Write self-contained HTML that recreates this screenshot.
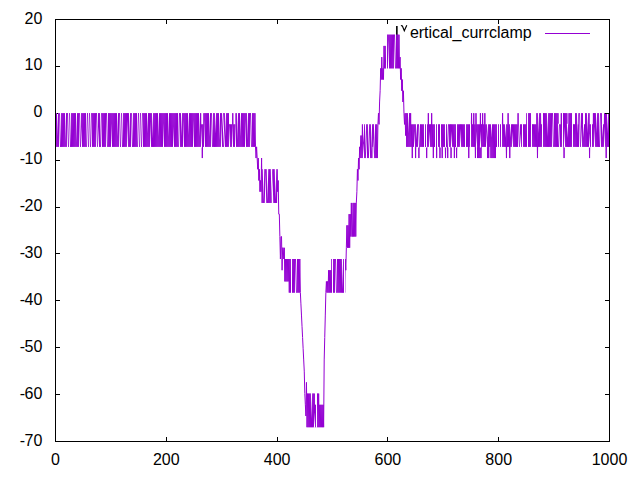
<!DOCTYPE html>
<html><head><meta charset="utf-8"><style>
html,body{margin:0;padding:0;background:#fff;}
svg{display:block;}
text{font-family:"Liberation Sans",sans-serif;font-size:16px;fill:#000;}
</style></head><body>
<svg width="640" height="480" viewBox="0 0 640 480">
<rect width="640" height="480" fill="#fff"/>
<path d="M55.5 66.5H60M609.5 66.5H605M55.5 160.5H60M609.5 160.5H605M55.5 207.5H60M609.5 207.5H605M55.5 253.5H60M609.5 253.5H605M55.5 300.5H60M609.5 300.5H605M55.5 347.5H60M609.5 347.5H605M55.5 394.5H60M609.5 394.5H605M166.5 441.5V437M166.5 19.5V24M277.5 441.5V437M277.5 19.5V24M387.5 441.5V437M387.5 19.5V24M498.5 441.5V437M498.5 19.5V24" stroke="#000" stroke-width="1" fill="none"/>
<g><text x="42.3" y="24.0" text-anchor="end">20</text><text x="42.3" y="70.0" text-anchor="end">10</text><text x="42.3" y="117.0" text-anchor="end">0</text><text x="42.3" y="164.0" text-anchor="end">-<tspan dx="-0.6">10</tspan></text><text x="42.3" y="211.0" text-anchor="end">-<tspan dx="-0.6">20</tspan></text><text x="42.3" y="258.0" text-anchor="end">-<tspan dx="-0.6">30</tspan></text><text x="42.3" y="305.0" text-anchor="end">-<tspan dx="-0.6">40</tspan></text><text x="42.3" y="352.0" text-anchor="end">-<tspan dx="-0.6">50</tspan></text><text x="42.3" y="399.0" text-anchor="end">-<tspan dx="-0.6">60</tspan></text><text x="42.3" y="446.0" text-anchor="end">-<tspan dx="-0.6">70</tspan></text><text x="55.5" y="464.5" text-anchor="middle">0</text><text x="166.3" y="464.5" text-anchor="middle">200</text><text x="277.1" y="464.5" text-anchor="middle">400</text><text x="387.9" y="464.5" text-anchor="middle">600</text><text x="498.7" y="464.5" text-anchor="middle">800</text><text x="609.5" y="464.5" text-anchor="middle">1000</text></g>
<path d="M396.85 26V40" stroke="#000" stroke-width="1.6" fill="none"/>
<path d="M401.1 26.1Q401.8 25.1 402.5 26.3L404.3 30.8L406.8 25.3" stroke="#000" stroke-width="1.15" fill="none"/>
<text x="409.9" y="37.9">ertical_currclamp</text>
<path d="M545 33.5H590" stroke="#9400d3" stroke-width="1" fill="none"/>
<path d="M55.50 113.20L56.05 146.84L56.61 113.20L57.16 146.84L57.72 113.20L58.27 146.84L58.82 113.20L59.38 146.84L59.93 113.20L60.49 146.84L61.04 113.20L61.59 146.84L62.15 113.20L62.70 146.84L63.26 113.20L63.81 146.84L64.36 113.20L64.92 146.84L65.47 113.20L66.03 146.84L66.58 113.20L67.13 146.84L67.69 113.20L68.24 146.84L68.80 113.20L69.35 146.84L69.90 113.20L70.46 146.84L71.01 113.20L71.57 146.84L72.12 113.20L72.67 146.84L73.23 113.20L73.78 146.84L74.34 113.20L74.89 146.84L75.44 113.20L76.00 146.84L76.55 113.20L77.11 146.84L77.66 113.20L78.21 146.84L78.77 113.20L79.32 146.84L79.88 113.20L80.43 146.84L80.98 113.20L81.54 146.84L82.09 113.20L82.65 146.84L83.20 113.20L83.75 146.84L84.31 113.20L84.86 146.84L85.42 113.20L85.97 146.84L86.52 113.20L87.08 146.84L87.63 113.20L88.19 146.84L88.74 113.20L89.29 146.84L89.85 113.20L90.40 146.84L90.96 113.20L91.51 146.84L92.06 113.20L92.62 146.84L93.17 113.20L93.73 146.84L94.28 113.20L94.83 146.84L95.39 113.20L95.94 146.84L96.50 113.20L97.05 146.84L97.60 113.20L98.16 146.84L98.71 113.20L99.27 146.84L99.82 113.20L100.37 146.84L100.93 113.20L101.48 146.84L102.04 113.20L102.59 146.84L103.14 113.20L103.70 146.84L104.25 113.20L104.81 146.84L105.36 113.20L105.91 146.84L106.47 113.20L107.02 146.84L107.58 113.20L108.13 146.84L108.68 113.20L109.24 146.84L109.79 113.20L110.35 146.84L110.90 113.20L111.45 146.84L112.01 113.20L112.56 146.84L113.12 113.20L113.67 146.84L114.22 113.20L114.78 146.84L115.33 113.20L115.89 146.84L116.44 113.20L116.99 146.84L117.55 113.20L118.10 146.84L118.66 113.20L119.21 146.84L119.76 113.20L120.32 146.84L120.87 113.20L121.43 146.84L121.98 113.20L122.53 146.84L123.09 113.20L123.64 146.84L124.20 113.20L124.75 146.84L125.30 113.20L125.86 146.84L126.41 113.20L126.97 146.84L127.52 113.20L128.07 146.84L128.63 113.20L129.18 146.84L129.74 113.20L130.29 146.84L130.84 113.20L131.40 146.84L131.95 113.20L132.51 146.84L133.06 113.20L133.61 146.84L134.17 113.20L134.72 146.84L135.28 113.20L135.83 146.84L136.38 113.20L136.94 146.84L137.49 113.20L138.05 146.84L138.60 113.20L139.15 146.84L139.71 113.20L140.26 146.84L140.82 113.20L141.37 146.84L141.92 113.20L142.48 146.84L143.03 113.20L143.59 146.84L144.14 113.20L144.69 146.84L145.25 113.20L145.80 146.84L146.36 113.20L146.91 146.84L147.46 113.20L148.02 146.84L148.57 113.20L149.13 146.84L149.68 113.20L150.23 146.84L150.79 113.20L151.34 146.84L151.90 113.20L152.45 146.84L153.00 113.20L153.56 146.84L154.11 113.20L154.67 146.84L155.22 113.20L155.77 146.84L156.33 113.20L156.88 146.84L157.44 113.20L157.99 146.84L158.54 113.20L159.10 146.84L159.65 113.20L160.21 146.84L160.76 113.20L161.31 146.84L161.87 113.20L162.42 146.84L162.98 113.20L163.53 146.84L164.08 113.20L164.64 146.84L165.19 113.20L165.75 146.84L166.30 113.20L166.85 146.84L167.41 113.20L167.96 146.84L168.52 113.20L169.07 146.84L169.62 113.20L170.18 146.84L170.73 113.20L171.29 146.84L171.84 113.20L172.39 146.84L172.95 113.20L173.50 146.84L174.06 113.20L174.61 146.84L175.16 113.20L175.72 146.84L176.27 113.20L176.83 146.84L177.38 113.20L177.93 146.84L178.49 113.20L179.04 146.84L179.60 113.20L180.15 146.84L180.70 113.20L181.26 146.84L181.81 113.20L182.37 146.84L182.92 113.20L183.47 146.84L184.03 113.20L184.58 146.84L185.14 113.20L185.69 146.84L186.24 113.20L186.80 146.84L187.35 113.20L187.91 146.84L188.46 113.20L189.01 146.84L189.57 113.20L190.12 146.84L190.68 113.20L191.23 146.84L191.78 113.20L192.34 146.84L192.89 113.20L193.45 146.84L194.00 113.20L194.55 146.84L195.11 113.20L195.66 146.84L196.22 113.20L196.77 146.84L197.32 113.20L197.88 146.84L198.43 113.20L198.99 146.84L199.54 113.20L200.09 146.84L200.65 113.20L201.20 146.84L201.76 124.42L202.31 158.06L202.86 124.42L203.42 146.84L203.97 113.20L204.53 146.84L205.08 113.20L205.63 146.84L206.19 113.20L206.74 146.84L207.30 113.20L207.85 146.84L208.40 113.20L208.96 146.84L209.51 113.20L210.07 146.84L210.62 113.20L211.17 146.84L211.73 113.20L212.28 146.84L212.84 113.20L213.39 146.84L213.94 113.20L214.50 146.84L215.05 113.20L215.61 146.84L216.16 113.20L216.71 146.84L217.27 113.20L217.82 146.84L218.38 113.20L218.93 146.84L219.48 113.20L220.04 146.84L220.59 113.20L221.15 146.84L221.70 113.20L222.25 146.84L222.81 113.20L223.36 146.84L223.92 113.20L224.47 146.84L225.02 113.20L225.58 146.84L226.13 113.20L226.69 146.84L227.24 113.20L227.79 146.84L228.35 113.20L228.90 146.84L229.46 124.42L230.01 146.84L230.56 124.42L231.12 146.84L231.67 124.42L232.23 146.84L232.78 113.20L233.33 146.84L233.89 124.42L234.44 146.84L235.00 124.42L235.55 146.84L236.10 113.20L236.66 146.84L237.21 113.20L237.77 146.84L238.32 113.20L238.87 146.84L239.43 113.20L239.98 146.84L240.54 113.20L241.09 146.84L241.64 113.20L242.20 146.84L242.75 113.20L243.31 146.84L243.86 113.20L244.41 146.84L244.97 113.20L245.52 146.84L246.08 113.20L246.63 146.84L247.18 113.20L247.74 146.84L248.29 113.20L248.85 146.84L249.40 113.20L249.95 146.84L250.51 113.20L251.06 146.84L251.62 113.20L252.17 146.84L252.72 113.20L253.28 146.84L253.83 113.20L254.39 146.84L254.94 113.20L255.49 146.84L256.05 158.06L256.60 146.84L257.16 158.06L257.71 169.28L258.26 158.06L258.82 180.49L259.37 169.28L259.93 191.70L260.48 180.49L261.03 191.70L261.59 158.06L262.14 202.92L262.70 169.28L263.25 202.92L263.80 169.28L264.36 202.92L264.91 169.28L265.47 202.92L266.02 169.28L266.57 202.92L267.13 169.28L267.68 202.92L268.24 169.28L268.79 202.92L269.34 169.28L269.90 202.92L270.45 169.28L271.01 202.92L271.56 169.28L272.11 202.92L272.67 169.28L273.22 202.92L273.78 169.28L274.33 202.92L274.88 169.28L275.44 202.92L275.99 169.28L276.55 202.92L277.10 169.28L277.65 191.70L278.21 180.49L278.76 214.13L279.32 214.13L279.87 236.56L280.42 259.00L280.98 236.56L281.53 236.56L282.09 270.21L282.64 247.78L283.19 247.78L283.75 259.00L284.30 247.78L284.86 281.43L285.41 259.00L285.96 281.43L286.52 259.00L287.07 281.43L287.63 259.00L288.18 281.43L288.73 259.00L289.29 292.64L289.84 259.00L290.40 292.64L290.95 259.00L291.50 292.64L292.06 259.00L292.61 292.64L293.17 259.00L293.72 292.64L294.27 259.00L294.83 292.64L295.38 259.00L295.94 292.64L296.49 259.00L297.04 292.64L297.60 259.00L298.15 292.64L298.71 259.00L299.26 292.64L299.81 259.00L300.37 292.64L300.92 303.86L301.48 315.07L302.03 326.29L302.58 337.50L303.14 348.71L303.69 359.93L304.25 371.14L304.80 393.57L305.35 404.79L305.91 416.00L306.46 382.36L307.02 427.22L307.57 393.57L308.12 427.22L308.68 393.57L309.23 427.22L309.79 393.57L310.34 427.22L310.89 393.57L311.45 427.22L312.00 393.57L312.56 427.22L313.11 393.57L313.66 427.22L314.22 393.57L314.77 427.22L315.33 404.79L315.88 427.22L316.43 404.79L316.99 427.22L317.54 393.57L318.10 427.22L318.65 393.57L319.20 427.22L319.76 404.79L320.31 427.22L320.87 404.79L321.42 427.22L321.97 404.79L322.53 427.22L323.08 404.79L323.64 427.22L324.19 359.93L324.74 337.50L325.30 315.07L325.85 292.64L326.41 281.43L326.96 292.64L327.51 281.43L328.07 292.64L328.62 270.21L329.18 292.64L329.73 270.21L330.28 292.64L330.84 270.21L331.39 292.64L331.95 259.00L332.50 292.64L333.05 259.00L333.61 292.64L334.16 259.00L334.72 292.64L335.27 259.00L335.82 292.64L336.38 259.00L336.93 292.64L337.49 259.00L338.04 292.64L338.59 259.00L339.15 292.64L339.70 259.00L340.26 292.64L340.81 259.00L341.36 292.64L341.92 259.00L342.47 292.64L343.03 259.00L343.58 292.64L344.13 259.00L344.69 292.64L345.24 259.00L345.80 270.21L346.35 247.78L346.90 225.35L347.46 247.78L348.01 225.35L348.57 247.78L349.12 214.13L349.67 247.78L350.23 214.13L350.78 236.56L351.34 202.92L351.89 236.56L352.44 236.56L353.00 202.92L353.55 236.56L354.11 202.92L354.66 236.56L355.21 202.92L355.77 236.56L356.32 202.92L356.88 191.70L357.43 169.28L357.98 180.49L358.54 158.06L359.09 169.28L359.65 146.84L360.20 158.06L360.75 135.63L361.31 135.63L361.86 158.06L362.42 124.42L362.97 158.06L363.52 124.42L364.08 158.06L364.63 124.42L365.19 158.06L365.74 124.42L366.29 158.06L366.85 124.42L367.40 158.06L367.96 124.42L368.51 158.06L369.06 124.42L369.62 158.06L370.17 124.42L370.73 158.06L371.28 124.42L371.83 158.06L372.39 124.42L372.94 146.84L373.50 124.42L374.05 158.06L374.60 124.42L375.16 158.06L375.71 124.42L376.27 158.06L376.82 124.42L377.37 158.06L377.93 124.42L378.48 113.20L379.04 124.42L379.59 101.98L380.14 90.77L380.70 68.34L381.25 79.56L381.81 57.12L382.36 79.56L382.91 68.34L383.47 79.56L384.02 45.91L384.58 68.34L385.13 45.91L385.68 68.34L386.24 68.34L386.79 34.70L387.35 68.34L387.90 34.70L388.45 68.34L389.01 34.70L389.56 68.34L390.12 34.70L390.67 68.34L391.22 34.70L391.78 68.34L392.33 34.70L392.89 68.34L393.44 34.70L393.99 68.34L394.55 34.70L395.10 68.34L395.66 34.70L396.21 68.34L396.76 34.70L397.32 68.34L397.87 34.70L398.43 68.34L398.98 34.70L399.53 68.34L400.09 57.12L400.64 79.56L401.20 68.34L401.75 90.77L402.30 79.56L402.86 101.98L403.41 90.77L403.97 113.20L404.52 124.42L405.07 113.20L405.63 135.63L406.18 113.20L406.74 146.84L407.29 113.20L407.84 146.84L408.40 113.20L408.95 146.84L409.51 113.20L410.06 146.84L410.61 113.20L411.17 146.84L411.72 124.42L412.28 158.06L412.83 124.42L413.38 146.84L413.94 124.42L414.49 146.84L415.05 124.42L415.60 158.06L416.15 124.42L416.71 146.84L417.26 124.42L417.82 146.84L418.37 124.42L418.92 158.06L419.48 124.42L420.03 146.84L420.59 124.42L421.14 146.84L421.69 124.42L422.25 146.84L422.80 124.42L423.36 146.84L423.91 124.42L424.46 146.84L425.02 124.42L425.57 146.84L426.13 124.42L426.68 158.06L427.23 124.42L427.79 146.84L428.34 113.20L428.90 146.84L429.45 124.42L430.00 146.84L430.56 124.42L431.11 146.84L431.67 113.20L432.22 146.84L432.77 124.42L433.33 158.06L433.88 124.42L434.44 146.84L434.99 124.42L435.54 146.84L436.10 124.42L436.65 158.06L437.21 124.42L437.76 146.84L438.31 124.42L438.87 146.84L439.42 124.42L439.98 158.06L440.53 124.42L441.08 146.84L441.64 124.42L442.19 158.06L442.75 124.42L443.30 146.84L443.85 124.42L444.41 146.84L444.96 124.42L445.52 158.06L446.07 124.42L446.62 146.84L447.18 124.42L447.73 158.06L448.29 124.42L448.84 146.84L449.39 124.42L449.95 146.84L450.50 124.42L451.06 158.06L451.61 124.42L452.16 146.84L452.72 124.42L453.27 146.84L453.83 124.42L454.38 158.06L454.93 124.42L455.49 146.84L456.04 124.42L456.60 158.06L457.15 124.42L457.70 146.84L458.26 124.42L458.81 146.84L459.37 124.42L459.92 146.84L460.47 124.42L461.03 146.84L461.58 124.42L462.14 146.84L462.69 124.42L463.24 146.84L463.80 124.42L464.35 146.84L464.91 124.42L465.46 146.84L466.01 124.42L466.57 146.84L467.12 124.42L467.68 146.84L468.23 124.42L468.78 158.06L469.34 124.42L469.89 146.84L470.45 124.42L471.00 146.84L471.55 113.20L472.11 146.84L472.66 124.42L473.22 146.84L473.77 113.20L474.32 146.84L474.88 124.42L475.43 158.06L475.99 113.20L476.54 146.84L477.09 124.42L477.65 158.06L478.20 124.42L478.76 158.06L479.31 124.42L479.86 158.06L480.42 113.20L480.97 158.06L481.53 124.42L482.08 146.84L482.63 113.20L483.19 146.84L483.74 124.42L484.30 146.84L484.85 113.20L485.40 146.84L485.96 124.42L486.51 146.84L487.07 124.42L487.62 158.06L488.17 124.42L488.73 158.06L489.28 124.42L489.84 146.84L490.39 124.42L490.94 158.06L491.50 124.42L492.05 158.06L492.61 124.42L493.16 158.06L493.71 124.42L494.27 158.06L494.82 124.42L495.38 158.06L495.93 124.42L496.48 146.84L497.04 124.42L497.59 146.84L498.15 124.42L498.70 146.84L499.25 124.42L499.81 146.84L500.36 124.42L500.92 146.84L501.47 124.42L502.02 146.84L502.58 113.20L503.13 146.84L503.69 124.42L504.24 146.84L504.79 124.42L505.35 146.84L505.90 124.42L506.46 158.06L507.01 124.42L507.56 146.84L508.12 113.20L508.67 146.84L509.23 124.42L509.78 158.06L510.33 124.42L510.89 146.84L511.44 124.42L512.00 146.84L512.55 124.42L513.10 146.84L513.66 124.42L514.21 146.84L514.77 124.42L515.32 146.84L515.87 124.42L516.43 146.84L516.98 124.42L517.54 146.84L518.09 113.20L518.64 146.84L519.20 124.42L519.75 146.84L520.31 124.42L520.86 146.84L521.41 124.42L521.97 146.84L522.52 124.42L523.08 146.84L523.63 124.42L524.18 146.84L524.74 124.42L525.29 146.84L525.85 124.42L526.40 146.84L526.95 113.20L527.51 146.84L528.06 113.20L528.62 146.84L529.17 113.20L529.72 146.84L530.28 113.20L530.83 146.84L531.39 124.42L531.94 146.84L532.49 124.42L533.05 146.84L533.60 124.42L534.16 146.84L534.71 124.42L535.26 146.84L535.82 124.42L536.37 146.84L536.93 113.20L537.48 158.06L538.03 113.20L538.59 146.84L539.14 113.20L539.70 146.84L540.25 113.20L540.80 146.84L541.36 124.42L541.91 146.84L542.47 113.20L543.02 146.84L543.57 113.20L544.13 146.84L544.68 113.20L545.24 146.84L545.79 113.20L546.34 146.84L546.90 113.20L547.45 146.84L548.01 113.20L548.56 146.84L549.11 113.20L549.67 146.84L550.22 113.20L550.78 146.84L551.33 113.20L551.88 146.84L552.44 113.20L552.99 146.84L553.55 113.20L554.10 146.84L554.65 113.20L555.21 146.84L555.76 113.20L556.32 146.84L556.87 113.20L557.42 146.84L557.98 113.20L558.53 146.84L559.09 124.42L559.64 146.84L560.19 124.42L560.75 146.84L561.30 113.20L561.86 146.84L562.41 113.20L562.96 146.84L563.52 113.20L564.07 158.06L564.63 113.20L565.18 146.84L565.73 113.20L566.29 146.84L566.84 113.20L567.40 146.84L567.95 124.42L568.50 146.84L569.06 113.20L569.61 146.84L570.17 113.20L570.72 146.84L571.27 113.20L571.83 146.84L572.38 113.20L572.94 146.84L573.49 124.42L574.04 146.84L574.60 124.42L575.15 146.84L575.71 113.20L576.26 146.84L576.81 113.20L577.37 146.84L577.92 124.42L578.48 146.84L579.03 113.20L579.58 146.84L580.14 113.20L580.69 146.84L581.25 113.20L581.80 146.84L582.35 113.20L582.91 146.84L583.46 124.42L584.02 146.84L584.57 124.42L585.12 146.84L585.68 113.20L586.23 146.84L586.79 113.20L587.34 146.84L587.89 113.20L588.45 146.84L589.00 113.20L589.56 158.06L590.11 124.42L590.66 146.84L591.22 124.42L591.77 146.84L592.33 124.42L592.88 146.84L593.43 113.20L593.99 146.84L594.54 113.20L595.10 146.84L595.65 113.20L596.20 146.84L596.76 113.20L597.31 146.84L597.87 113.20L598.42 146.84L598.97 113.20L599.53 146.84L600.08 113.20L600.64 146.84L601.19 113.20L601.74 146.84L602.30 124.42L602.85 146.84L603.41 124.42L603.96 146.84L604.51 113.20L605.07 146.84L605.62 113.20L606.18 158.06L606.73 113.20L607.28 146.84L607.84 113.20L608.39 146.84L608.95 113.20L609.50 146.84" stroke="#9400d3" stroke-width="1" fill="none"/>
<path d="M56.95 112.60H58.05L57.50 136.99ZM60.00 112.60H61.00L60.00 147.44H59.00ZM64.95 112.60H66.05L65.50 142.22ZM68.00 112.60H69.00L68.00 147.44H67.00ZM70.00 112.60H71.00L70.00 147.44H69.00ZM75.95 112.60H77.05L76.50 142.22ZM80.00 112.60H81.00L80.00 147.44H79.00ZM80.95 147.44H82.05L81.50 126.54ZM86.00 112.60H87.00L88.00 147.44H87.00ZM88.00 112.60H89.00L90.00 147.44H89.00ZM90.00 112.60H91.00L92.00 147.44H91.00ZM97.00 112.60H98.00L97.00 147.44H96.00ZM97.95 147.44H99.05L98.50 126.54ZM100.00 112.60H101.00L102.00 147.44H101.00ZM107.00 112.60H108.00L107.00 147.44H106.00ZM110.95 147.44H112.05L111.50 123.05ZM116.95 112.60H118.05L117.50 136.99ZM120.00 112.60H121.00L120.00 147.44H119.00ZM122.00 112.60H123.00L122.00 147.44H121.00ZM126.95 147.44H128.05L127.50 119.57ZM128.95 112.60H130.05L129.50 140.48ZM132.00 112.60H133.00L132.00 147.44H131.00ZM137.00 112.60H138.00L139.00 147.44H138.00ZM139.00 112.60H140.00L141.00 147.44H140.00ZM141.00 112.60H142.00L143.00 147.44H142.00ZM146.95 112.60H148.05L147.50 133.51ZM149.95 147.44H151.05L150.50 121.31ZM151.95 112.60H153.05L152.50 138.73ZM157.95 112.60H159.05L158.50 136.99ZM162.95 147.44H164.05L163.50 123.05ZM167.95 112.60H169.05L168.50 136.99ZM172.95 147.44H174.05L173.50 126.54ZM178.00 112.60H179.00L180.00 147.44H179.00ZM180.95 112.60H182.05L181.50 136.99ZM182.95 147.44H184.05L183.50 119.57ZM187.95 112.60H189.05L188.50 135.25ZM192.95 147.44H194.05L193.50 119.57ZM198.95 112.60H200.05L199.50 136.99ZM200.95 147.44H202.05L201.50 126.54ZM203.95 147.44H205.05L204.50 119.57ZM208.95 112.60H210.05L209.50 136.99ZM212.00 112.60H213.00L212.00 147.44H211.00ZM214.95 112.60H216.05L215.50 133.51ZM218.95 112.60H220.05L219.50 140.48ZM220.95 147.44H222.05L221.50 119.57ZM222.00 112.60H223.00L225.00 147.44H224.00ZM224.95 112.60H226.05L225.50 136.99ZM228.95 147.44H230.05L229.50 123.05ZM231.95 147.44H233.05L232.50 123.05ZM234.95 147.44H236.05L235.50 119.57ZM236.95 112.60H238.05L237.50 140.48ZM239.95 112.60H241.05L240.50 136.99ZM244.95 147.44H246.05L245.50 119.57ZM246.95 112.60H248.05L247.50 140.48ZM251.00 112.60H252.00L251.00 147.44H250.00ZM262.75 168.68H264.25L263.50 201.78ZM264.75 203.52H266.25L265.50 172.16ZM266.75 168.68H268.25L267.50 201.78ZM270.75 168.68H272.25L271.50 201.78ZM271.75 203.52H273.25L272.50 172.16ZM274.75 168.68H276.25L275.50 200.04ZM291.00 258.39H292.00L292.00 293.24H291.00ZM296.00 258.39H297.00L296.00 293.24H295.00ZM332.00 258.39H333.00L333.00 293.24H332.00ZM336.00 258.39H337.00L336.00 293.24H335.00ZM341.90 258.39H343.10L342.50 289.76ZM344.00 258.39H345.00L345.00 293.24H344.00ZM310.90 392.97H312.10L311.50 419.11ZM313.90 427.82H315.10L314.50 412.14ZM316.00 392.97H317.00L317.00 427.82H316.00ZM362.90 123.82H364.10L363.50 153.43ZM362.90 158.66H364.10L363.50 134.27ZM364.90 123.82H366.10L365.50 153.43ZM365.90 158.66H367.10L366.50 132.53ZM367.90 123.82H369.10L368.50 153.43ZM368.90 158.66H370.10L369.50 132.53ZM370.90 123.82H372.10L371.50 151.69ZM372.90 158.66H374.10L373.50 137.75ZM373.90 123.82H375.10L374.50 151.69ZM386.00 34.10H387.00L387.00 68.94H386.00ZM387.90 68.94H389.10L388.50 39.32ZM395.00 34.10H396.00L395.00 68.94H394.00ZM407.90 112.60H409.10L408.50 133.51ZM413.90 147.44H415.10L414.50 130.90ZM415.90 123.82H417.10L416.50 140.36ZM419.00 123.82H420.00L419.00 147.44H418.00ZM424.00 123.82H425.00L425.00 147.44H424.00ZM426.00 123.82H427.00L427.00 147.44H426.00ZM428.90 147.44H430.10L429.50 130.90ZM435.00 123.82H436.00L436.00 147.44H435.00ZM437.00 123.82H438.00L438.00 147.44H437.00ZM440.00 123.82H441.00L441.00 147.44H440.00ZM445.00 123.82H446.00L446.00 147.44H445.00ZM447.00 123.82H448.00L449.00 147.44H448.00ZM450.90 147.44H452.10L451.50 130.90ZM456.00 123.82H457.00L457.00 147.44H456.00ZM459.90 147.44H461.10L460.50 128.54ZM465.00 123.82H466.00L466.00 147.44H465.00ZM470.00 123.82H471.00L471.00 147.44H470.00ZM475.90 147.44H477.10L476.50 130.90ZM479.90 147.44H481.10L480.50 130.90ZM485.90 147.44H487.10L486.50 130.90ZM486.90 123.82H488.10L487.50 137.99ZM490.90 123.82H492.10L491.50 137.99ZM497.00 123.82H498.00L498.00 147.44H497.00ZM499.00 123.82H500.00L500.00 147.44H499.00ZM501.00 123.82H502.00L502.00 147.44H501.00ZM504.90 123.82H506.10L505.50 137.99ZM509.90 123.82H511.10L510.50 137.99ZM511.90 147.44H513.10L512.50 130.90ZM519.00 123.82H520.00L519.00 147.44H518.00ZM519.90 147.44H521.10L520.50 133.27ZM522.00 123.82H523.00L523.00 147.44H522.00ZM527.00 112.60H528.00L528.00 147.44H527.00ZM531.00 123.82H532.00L532.00 147.44H531.00ZM537.90 112.60H539.10L538.50 133.51ZM542.00 112.60H543.00L543.00 147.44H542.00ZM546.90 112.60H548.10L547.50 136.99ZM553.00 112.60H554.00L553.00 147.44H552.00ZM558.00 123.82H559.00L560.00 147.44H559.00ZM562.00 112.60H563.00L563.00 147.44H562.00ZM563.90 147.44H565.10L564.50 126.54ZM566.90 123.82H568.10L567.50 137.99ZM572.00 112.60H573.00L573.00 147.44H572.00ZM576.90 112.60H578.10L577.50 133.51ZM580.00 112.60H581.00L580.00 147.44H579.00ZM580.90 147.44H582.10L581.50 126.54ZM582.90 123.82H584.10L583.50 137.99ZM586.90 112.60H588.10L587.50 133.51ZM588.90 147.44H590.10L589.50 133.27ZM591.00 123.82H592.00L592.00 147.44H591.00ZM593.90 147.44H595.10L594.50 126.54ZM595.90 112.60H597.10L596.50 133.51ZM599.00 112.60H600.00L601.00 147.44H600.00ZM601.90 123.82H603.10L602.50 137.99ZM603.90 147.44H605.10L604.50 126.54ZM606.90 112.60H608.10L607.50 133.51Z" fill="#fff"/>
<path d="M57 113.5H58" stroke="#000" stroke-width="1" fill="none"/>
<path d="M609.5 113.5H605" stroke="#000" stroke-width="1" fill="none"/>
<rect x="55.5" y="19.5" width="554" height="422" stroke="#000" stroke-width="1" fill="none"/>
</svg>
</body></html>
